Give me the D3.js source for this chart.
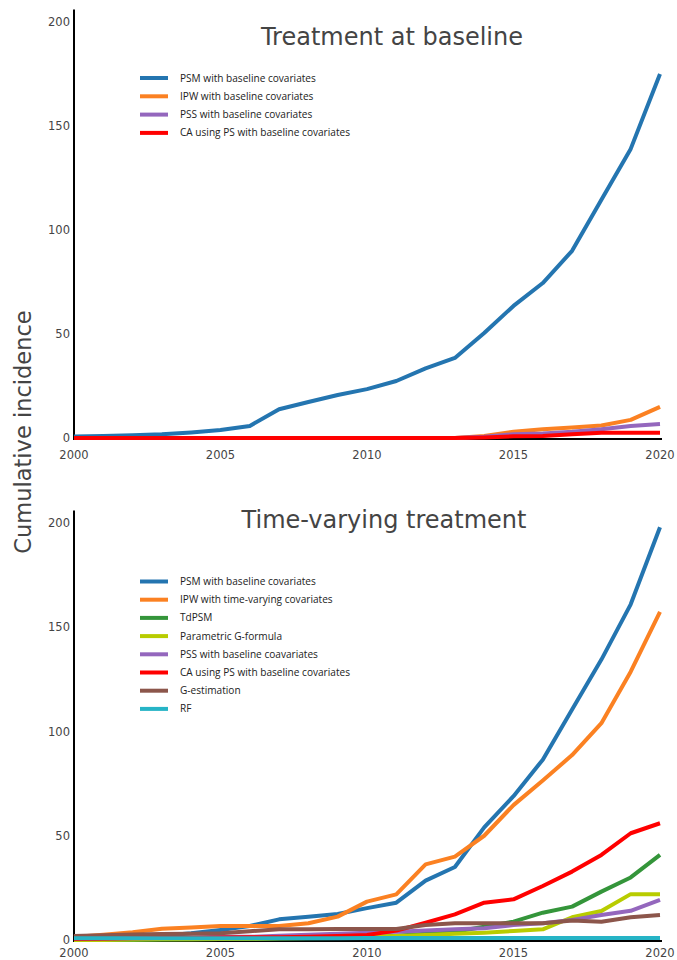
<!DOCTYPE html>
<html>
<head>
<meta charset="utf-8">
<script src="https://cdn.jsdelivr.net/npm/d3@7"></script>
<style>
body { margin: 0; background: #fff; }
.tick-label { font-family: "DejaVu Sans", Verdana, sans-serif; font-size: 11.5px; fill: #444; }
.title { font-family: "DejaVu Sans", Verdana, sans-serif; font-size: 24px; fill: #444; }
.legend-text { font-family: "Open Sans", sans-serif; font-size: 10.1px; fill: #222; }
</style>
</head>
<body>
<div id="chart"></div>
<script>
// years on the x axis
var years = [2000, 2001, 2002, 2003, 2004, 2005, 2006, 2007, 2008, 2009, 2010,
             2011, 2012, 2013, 2014, 2015, 2016, 2017, 2018, 2019, 2020];
var xTicks = [2000, 2005, 2010, 2015, 2020];
var yTicks = [0, 50, 100, 150, 200];

// Treatment at baseline
var basePSM = [0.7, 1, 1.3, 1.8, 2.7, 3.8, 5.8, 13.8, 17.3, 20.7, 23.5, 27.4, 33.5, 38.5, 50.5, 63.5, 74.5, 90, 114.5, 139, 175];
var baseIPW = [0, 0, 0, 0, 0, 0, 0, 0, 0, 0, 0, 0, 0, 0, 1, 3, 4.2, 5, 6, 8.7, 15];
var basePSS = [0, 0, 0, 0, 0, 0, 0, 0, 0, 0, 0, 0, 0, 0, 0.6, 1.8, 2.2, 3, 4.2, 5.8, 6.7];
var baseCA  = [0, 0, 0, 0, 0, 0, 0, 0, 0, 0, 0, 0, 0, 0, 0.3, 0.8, 1, 1.8, 2.5, 2.5, 2.5];

// Time-varying treatment
var tvPSM      = [0, 0.3, 1, 2, 3.2, 4.8, 6.7, 9.9, 11.2, 12.5, 15.3, 17.9, 28.5, 35, 54, 69, 86.5, 110.5, 134.5, 161, 198];
var tvIPW      = [1.5, 2.5, 3.7, 5.4, 6, 6.7, 6.7, 6.7, 8, 11.2, 18.4, 21.9, 36.3, 40, 50, 64.7, 76.5, 88.7, 104, 128.7, 157.4];
var tvTdPSM    = [0, 0, 0, 0.2, 0.3, 0.5, 0.5, 0.7, 0.8, 1, 1.3, 2, 3, 4, 6.4, 8.8, 13.1, 16, 23.2, 30, 40.8];
var tvGformula = [0, 0, 0.2, 0.3, 0.4, 0.5, 0.6, 0.8, 1, 1.2, 1.5, 1.9, 2.4, 3, 3.5, 4.3, 5.1, 10.9, 13.9, 22, 22];
var tvPSS      = [0.5, 0.8, 1, 1, 1.2, 1.5, 1.5, 2, 2.5, 3, 3.5, 4, 4.5, 5.1, 5.6, 7.2, 8, 9.6, 12, 14, 19.2];
var tvCA       = [0.5, 0.6, 0.8, 1, 1, 1.2, 1.3, 1.3, 1.5, 1.9, 2.4, 4.5, 8.3, 12.3, 17.9, 19.5, 25.9, 32.8, 40.8, 51.2, 56];
var tvGest     = [1.9, 2.3, 2.6, 2.9, 3, 3.2, 4.2, 5.1, 5.2, 5.3, 5.3, 5.3, 7.2, 8, 8, 8, 8, 9.3, 8.8, 10.9, 12];
var tvRF       = [0.8, 0.8, 0.8, 0.8, 0.8, 0.8, 0.8, 0.8, 0.8, 0.8, 0.9, 1, 1, 1, 1, 1, 1, 1, 1, 1, 1];

var totalWidth = 677;
var totalHeight = 960;

var svg = d3.select("#chart").append("svg")
    .attr("width", totalWidth)
    .attr("height", totalHeight);

svg.append("rect").attr("width", totalWidth).attr("height", totalHeight).attr("fill", "#fff");

var xSca = d3.scaleLinear().domain([2000, 2020]).range([74, 660]);

function drawPanel(p) {
    var ySca = d3.scaleLinear().domain([0, 200]).range([p.zeroY, p.topY]);
    var g = svg.append("g");

    // axes lines
    g.append("line")
        .attr("x1", xSca(2000)).attr("x2", xSca(2000))
        .attr("y1", ySca(206)).attr("y2", ySca(-1))
        .attr("stroke", "#000").attr("stroke-width", 2);
    g.append("line")
        .attr("x1", xSca(2000)).attr("x2", xSca(2020) + 2)
        .attr("y1", ySca(-0.5)).attr("y2", ySca(-0.5))
        .attr("stroke", "#000").attr("stroke-width", 2);

    // tick labels
    g.selectAll(".ytick").data(yTicks).enter().append("text")
        .attr("class", "tick-label")
        .attr("x", 70)
        .attr("y", function(d) { return ySca(d); })
        .attr("dy", "0.35em")
        .style("text-anchor", "end")
        .text(function(d) { return d; });

    g.selectAll(".xtick").data(xTicks).enter().append("text")
        .attr("class", "tick-label")
        .attr("x", function(d) { return xSca(d); })
        .attr("y", p.xLabelY)
        .style("text-anchor", "middle")
        .text(function(d) { return d; });

    // title
    g.append("text")
        .attr("class", "title")
        .attr("x", p.titleX)
        .attr("y", p.titleY)
        .style("text-anchor", "middle")
        .text(p.title);

    // lines
    var line = d3.line()
        .x(function(d, i) { return xSca(years[i]); })
        .y(function(d) { return ySca(d); });

    g.selectAll(".series").data(p.series).enter().append("path")
        .attr("d", function(s) { return line(s.values); })
        .attr("fill", "none")
        .attr("stroke", function(s) { return s.color; })
        .attr("stroke-width", 4)
        .attr("stroke-linejoin", "round");

    // legend
    var legend = g.selectAll(".legend").data(p.series).enter().append("g")
        .attr("transform", function(d, i) { return "translate(0," + (p.legendY + i * p.legendStep) + ")"; });

    legend.append("line")
        .attr("x1", 140).attr("x2", 168)
        .attr("y1", 0).attr("y2", 0)
        .attr("stroke", function(s) { return s.color; })
        .attr("stroke-width", 4);

    legend.append("text")
        .attr("class", "legend-text")
        .attr("x", 180)
        .attr("y", 0)
        .attr("dy", "0.35em")
        .text(function(s) { return s.name; });
}

drawPanel({
    zeroY: 438, topY: 22, xLabelY: 459,
    title: "Treatment at baseline", titleX: 392, titleY: 45,
    legendY: 78, legendStep: 18.3,
    series: [
        {name: "PSM with baseline covariates", values: basePSM, color: "#2475b0"},
        {name: "IPW with baseline covariates", values: baseIPW, color: "#fb8122"},
        {name: "PSS with baseline covariates", values: basePSS, color: "#9467bd"},
        {name: "CA using PS with baseline covariates", values: baseCA, color: "#ff0000"}
    ]
});

drawPanel({
    zeroY: 940, topY: 523, xLabelY: 957,
    title: "Time-varying treatment", titleX: 384, titleY: 528,
    legendY: 581.5, legendStep: 18.2,
    series: [
        {name: "PSM with baseline covariates", values: tvPSM, color: "#2475b0"},
        {name: "IPW with time-varying covariates", values: tvIPW, color: "#fb8122"},
        {name: "TdPSM", values: tvTdPSM, color: "#34953a"},
        {name: "Parametric G-formula", values: tvGformula, color: "#b8cc00"},
        {name: "PSS with baseline coavariates", values: tvPSS, color: "#9467bd"},
        {name: "CA using PS with baseline covariates", values: tvCA, color: "#ff0000"},
        {name: "G-estimation", values: tvGest, color: "#8c564b"},
        {name: "RF", values: tvRF, color: "#26b4c6"}
    ]
});

// shared y axis label
svg.append("text")
    .attr("transform", "translate(31,432) rotate(-90)")
    .style("text-anchor", "middle")
    .style("font-family", "DejaVu Sans, Verdana, sans-serif")
    .style("font-size", "22.5px")
    .style("fill", "#444")
    .text("Cumulative incidence");
</script>
</body>
</html>
